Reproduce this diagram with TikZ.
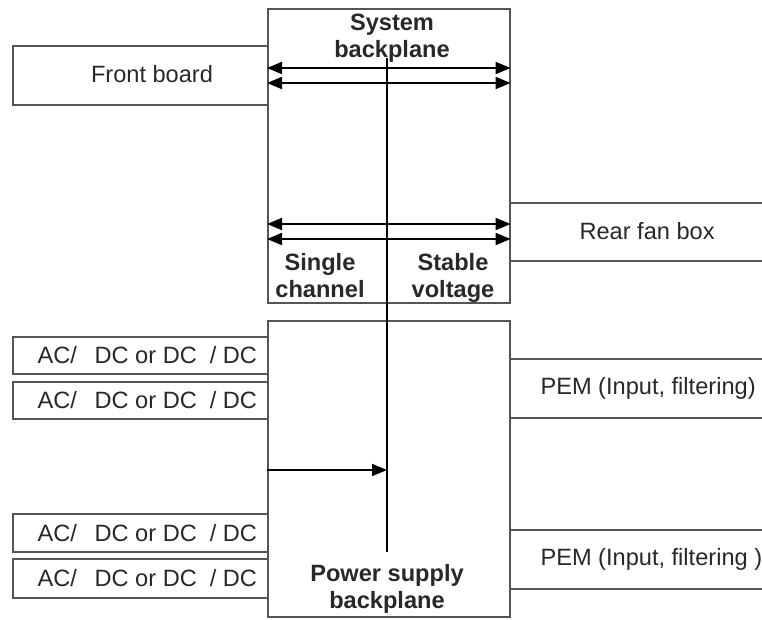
\documentclass[tikz,border=0pt]{standalone}
\usepackage{fontspec}
\setmainfont{Liberation Sans}
\usetikzlibrary{arrows.meta,calc}

\begin{document}
\begin{tikzpicture}[x=1pt,y=-1pt,>={Triangle[length=15pt,width=12pt]},
  font=\fontsize{23.6}{26.5}\selectfont,
  box/.style={draw=boxline,line width=1.6pt,inner sep=0pt,anchor=north west},
  head/.style={font=\fontsize{23.6}{26.5}\selectfont\bfseries,align=center,anchor=base},
  link/.style={line width=1.8pt,black}]
\definecolor{boxline}{RGB}{85,85,85}
\definecolor{ink}{RGB}{40,40,40}
\clip (0,0) rectangle (762,619);

% Backplanes in the middle column.
\node[box,minimum width=242pt,minimum height=294pt] (sys) at (267,8) {};
\node[box,minimum width=242pt,minimum height=296pt] (psu) at (267,320) {};

% Boards left and right of the backplanes.
\node[box,minimum width=255pt,minimum height=59pt] (front) at (12,45) {};
\node[box,minimum width=290pt,minimum height=58pt] (fan) at (509,202) {};
\node[box,minimum width=255pt,minimum height=37pt] (acA) at (12,336) {};
\node[box,minimum width=255pt,minimum height=37pt] (acB) at (12,381) {};
\node[box,minimum width=255pt,minimum height=38pt] (acC) at (12,513) {};
\node[box,minimum width=255pt,minimum height=39pt] (acD) at (12,558) {};
\node[box,minimum width=290pt,minimum height=59pt] (pemA) at (509,358) {};
\node[box,minimum width=290pt,minimum height=59pt] (pemB) at (509,529) {};

% Board texts.
\node[ink] (frontText) at (152,74) {Front board};
\node[ink,anchor=west] (fanText) at (576,231) {Rear fan box};
\foreach \b in {acA,acB,acC,acD}
  \node[ink,anchor=east] (\b Text) at ([xshift=-8pt]\b.east)
    {AC/\hspace{0.75em}DC or DC\hspace{0.55em}/ DC};
\node[ink,anchor=west] (pemAText) at ([xshift=28pt]pemA.west) {PEM (Input, filtering)};
\node[ink,anchor=west] (pemBText) at ([xshift=28pt]pemB.west) {PEM (Input, filtering )};

% Backplane captions (anchored on the baseline of the lower line).
\node[head,ink] (sysText) at (392,57) {System\\backplane};
\node[head,ink] (single) at (320,297) {Single\\channel};
\node[head,ink] (stable) at (453,297) {Stable\\voltage};
\node[head,ink] (psuText) at (387,608) {Power supply\\backplane};

% Common bus through both backplanes.
\coordinate (busTop) at (387,58);
\coordinate (busEnd) at (387,552);
\draw[link,line width=2.6pt] (busTop) -- (busEnd);

% Signal lanes across the system backplane.
\foreach \y in {68,83,224,239}
  \draw[link,<->] (sys.west |- 0,\y) -- (sys.east |- 0,\y);

% Power feed into the bus.
\draw[link,->] (psu.west |- 0,470) -- (busTop |- 0,470);
\end{tikzpicture}
\end{document}
